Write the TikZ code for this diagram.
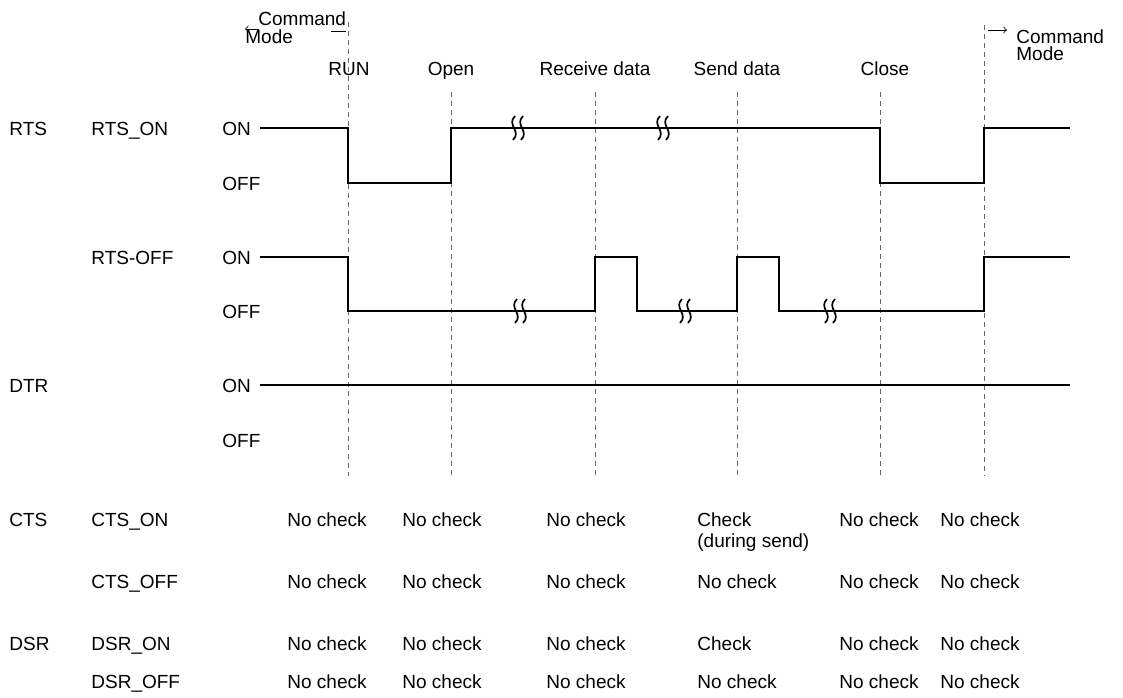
\documentclass[tikz,border=0pt]{standalone}
\usepackage{fontspec}
\setmainfont{Liberation Sans}
\begin{document}
\begin{tikzpicture}[x=0.5pt,y=-0.5pt,
  lbl/.style={anchor=base west,inner sep=0pt,font=\fontsize{9.5pt}{10.6pt}\selectfont},
  clbl/.style={anchor=base,inner sep=0pt,font=\fontsize{9.5pt}{10.6pt}\selectfont},
  sig/.style={line width=1.2pt,line join=miter},
  guide/.style={line width=0.45pt,gray!80!black,dash pattern=on 2.5pt off 2pt},
  brkmark/.style={line width=0.85pt},
  thinarrow/.style={line width=0.4pt,-to}]
\useasboundingbox (0,0) rectangle (1123,697);
% guide lines
\foreach \nm/\x/\t in {g1/348/22,g2/451/92,g3/595/92,g4/737/92,g5/880/92,g6/984/25}{
  \coordinate (\nm t) at (\x,\t);
  \coordinate (\nm b) at (\x,476);
  \draw[guide] (\nm t) -- (\nm b);
}
% top labels
\node[lbl] (cmL1) at (258,25) {Command};
\node[lbl] (cmL2) at (245,43) {Mode};
\coordinate (aLs) at (259,29);
\coordinate (aLe) at (245,29);
\draw[thinarrow] (aLs) -- (aLe);
\coordinate (dLs) at (331,31);
\coordinate (dLe) at (346,31);
\draw[line width=0.4pt] (dLs) -- (dLe);
\node[lbl] (cmR1) at (1016,43) {Command};
\node[lbl] (cmR2) at (1016,60) {Mode};
\coordinate (aRs) at (988,30);
\coordinate (aRe) at (1007,30);
\draw[thinarrow] (aRs) -- (aRe);
\node[clbl] (tRun) at (349,75) {RUN};
\node[clbl] (tOpen) at (451,75) {Open};
\node[clbl] (tRecv) at (595,75) {Receive data};
\node[clbl] (tSend) at (737,75) {Send data};
\node[clbl] (tClose) at (885,75) {Close};
% left labels
\node[lbl] (lRTS) at (9,135) {RTS};
\node[lbl] (lRTSON) at (91,135) {RTS\_ON};
\node[lbl] (on1) at (222,135) {ON};
\node[lbl] (off1) at (222,190) {OFF};
\node[lbl] (lRTSOFF) at (91,264) {RTS-OFF};
\node[lbl] (on2) at (222,264) {ON};
\node[lbl] (off2) at (222,318) {OFF};
\node[lbl] (lDTR) at (9,392) {DTR};
\node[lbl] (on3) at (222,392) {ON};
\node[lbl] (off3) at (222,447) {OFF};
% waveforms
\draw[sig] (260,128) -- (348,128) -- (348,183) -- (451,183) -- (451,128) -- (880,128) -- (880,183) -- (984,183) -- (984,128) -- (1070,128);
\draw[sig] (260,257) -- (348,257) -- (348,311) -- (595,311) -- (595,257) -- (637,257) -- (637,311) -- (737,311) -- (737,257) -- (779,257) -- (779,311) -- (984,311) -- (984,257) -- (1070,257);
\draw[sig] (260,385) -- (1070,385);
% break marks
\foreach \x/\y in {518/128,663/128,520/311,685/311,830/311}{
  \foreach \d in {-4,4}{
    \draw[brkmark] ({\x+\d+1},{\y-12}) .. controls ({\x+\d-8},{\y-3}) and ({\x+\d+8},{\y+3}) .. ({\x+\d-1},{\y+12});
  }
}
% table
\node[lbl] (lCTS) at (9,526) {CTS};
\node[lbl] (lCTSON) at (91,526) {CTS\_ON};
\node[lbl] (lCTSOFF) at (91,588) {CTS\_OFF};
\node[lbl] (lDSR) at (9,650) {DSR};
\node[lbl] (lDSRON) at (91,650) {DSR\_ON};
\node[lbl] (lDSROFF) at (91,688) {DSR\_OFF};
\foreach \r/\y/\a/\b/\c/\d/\e/\f in {
  r1/526/No check/No check/No check/Check/No check/No check,
  r2/588/No check/No check/No check/No check/No check/No check,
  r3/650/No check/No check/No check/Check/No check/No check,
  r4/688/No check/No check/No check/No check/No check/No check}{
  \node[lbl] (\r c1) at (287,\y) {\a};
  \node[lbl] (\r c2) at (402,\y) {\b};
  \node[lbl] (\r c3) at (546,\y) {\c};
  \node[lbl] (\r c4) at (697,\y) {\d};
  \node[lbl] (\r c5) at (839,\y) {\e};
  \node[lbl] (\r c6) at (940,\y) {\f};
}
\node[lbl] (during) at (697,547) {(during send)};
\end{tikzpicture}
\end{document}
